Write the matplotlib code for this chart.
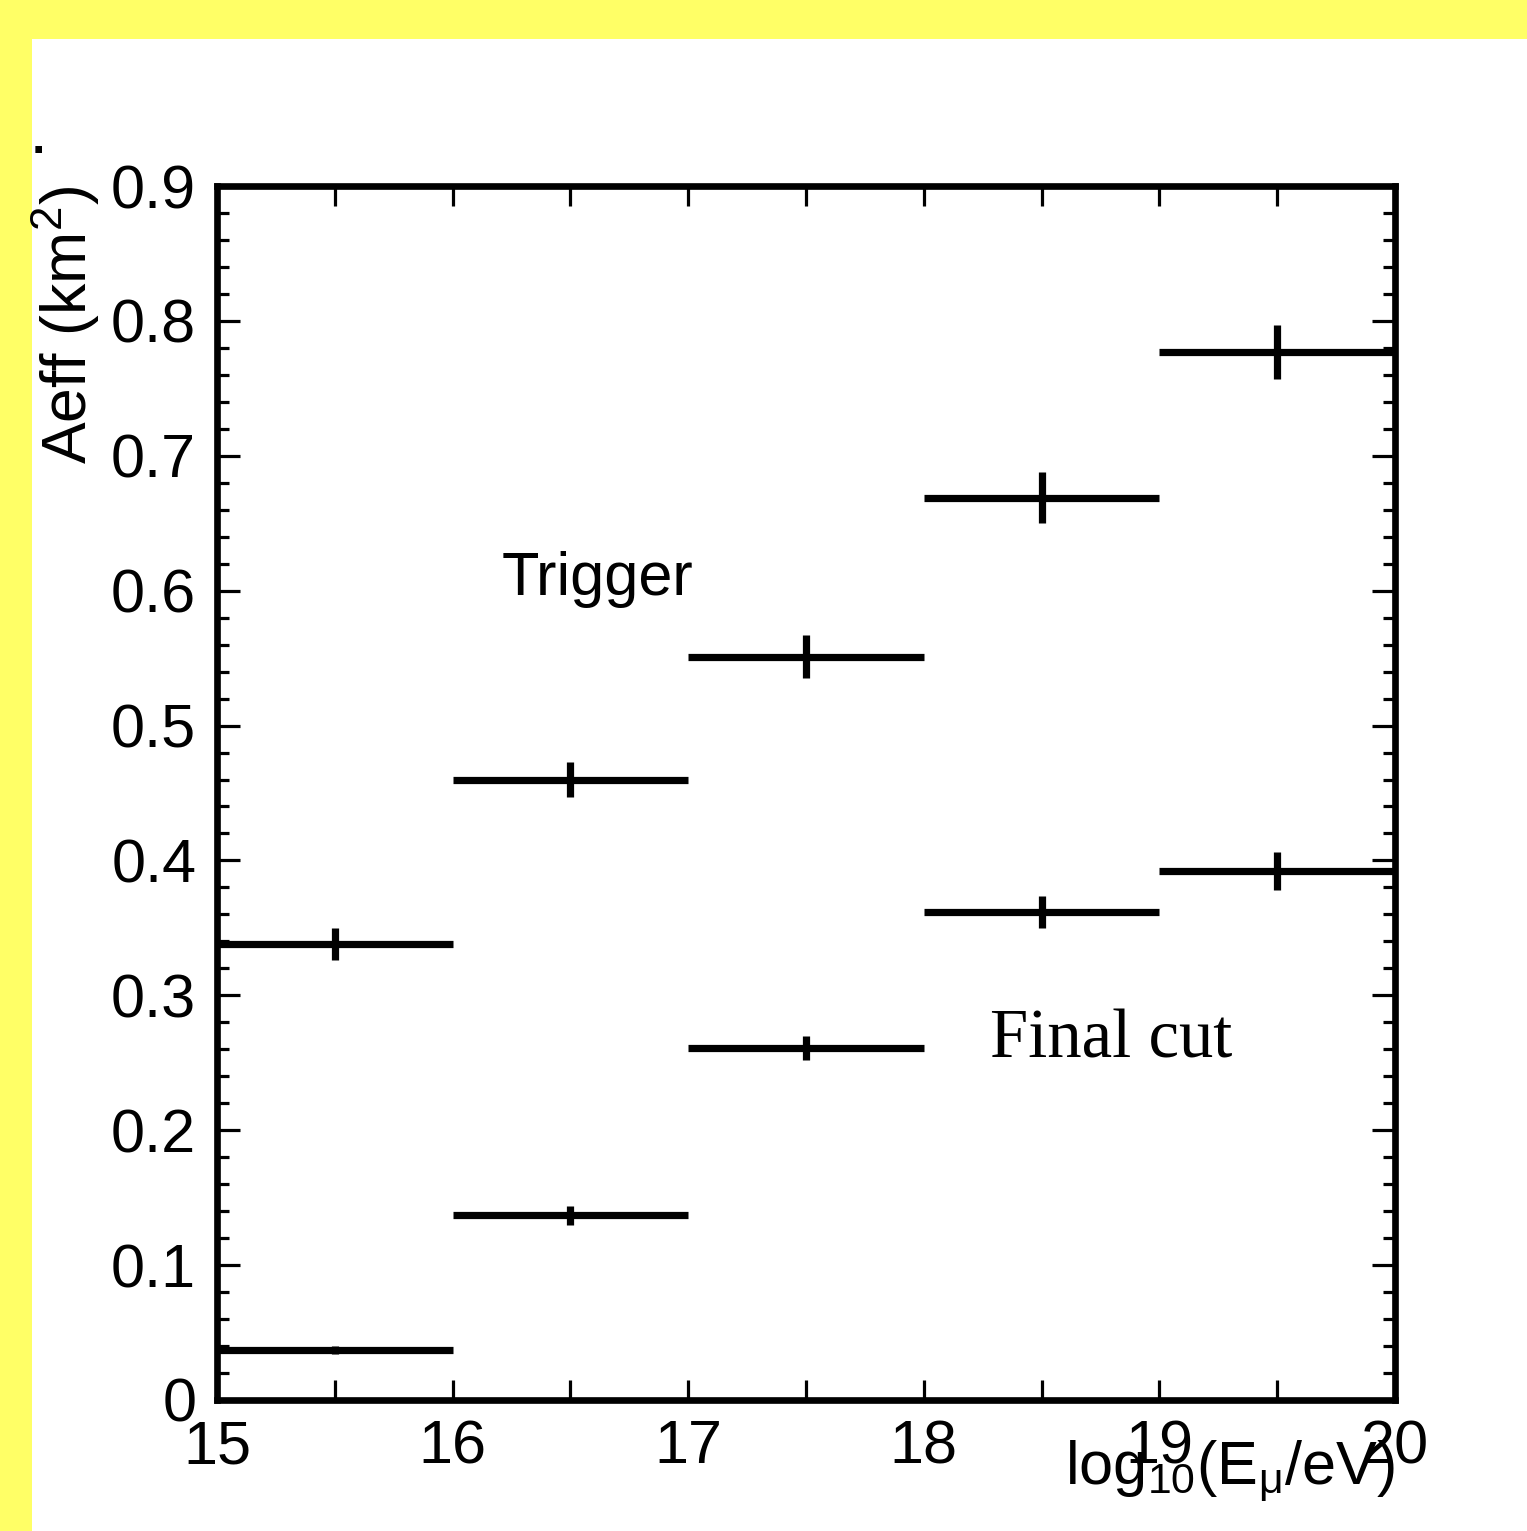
import matplotlib
matplotlib.use("Agg")
import matplotlib.pyplot as plt
from matplotlib.patches import Rectangle
from matplotlib.ticker import MultipleLocator

plt.rcParams['font.family'] = ['Liberation Sans', 'DejaVu Sans']
plt.rcParams['mathtext.default'] = 'regular'

# bin edges in log10(E/eV)
edges = [15, 16, 17, 18, 19, 20]
centers = [15.5, 16.5, 17.5, 18.5, 19.5]

# effective area (km^2)
trigger = [0.338, 0.460, 0.551, 0.669, 0.777]
trigger_err = [0.012, 0.013, 0.016, 0.019, 0.020]
final_cut = [0.037, 0.137, 0.261, 0.362, 0.392]
final_err = [0.003, 0.007, 0.009, 0.012, 0.014]

W, H = 1527, 1531
fig = plt.figure(figsize=(W / 100, H / 100), dpi=100, facecolor='#ffff66')

# white canvas inside the yellow border
fig.patches.append(Rectangle((32 / W, 0), 1 - 32 / W, (H - 39) / H,
                             transform=fig.transFigure, facecolor='white',
                             edgecolor='none', zorder=-10))

ax = fig.add_axes([217 / W, 1 - 1400 / H, (1395 - 217) / W, (1400 - 186) / H])
ax.set_facecolor('white')

half_width = [(edges[i + 1] - edges[i]) / 2 for i in range(len(centers))]

ax.errorbar(centers, trigger, xerr=half_width, yerr=trigger_err, fmt='none',
            ecolor='black', elinewidth=5.2, capsize=0, clip_on=True)
ax.errorbar(centers, final_cut, xerr=half_width, yerr=final_err, fmt='none',
            ecolor='black', elinewidth=5.2, capsize=0, clip_on=True)

ax.set_xlim(15, 20)
ax.set_ylim(0, 0.9)

ax.xaxis.set_major_locator(MultipleLocator(1))
ax.xaxis.set_minor_locator(MultipleLocator(0.5))
ax.yaxis.set_major_locator(MultipleLocator(0.1))
ax.yaxis.set_minor_locator(MultipleLocator(0.02))
ax.yaxis.set_major_formatter(plt.FuncFormatter(lambda v, p: '0' if abs(v) < 1e-9 else '%g' % v))

for s in ax.spines.values():
    s.set_linewidth(4.8)

ax.tick_params(axis='both', which='both', direction='in', top=True, right=True,
               width=2.3, labelsize=44)
ax.tick_params(axis='y', which='major', length=16.5, pad=15)
ax.tick_params(axis='y', which='minor', length=8.6)
ax.tick_params(axis='x', which='both', length=14.4, pad=14)

ax.set_xlabel(r'log$_{10}$(E$_{\mu}$/eV)', fontsize=44, loc='right')
ax.xaxis.set_label_coords(1.0, -0.032)
ax.set_ylabel(r'Aeff (km$^{2}$)', fontsize=45, loc='top')
ax.yaxis.set_label_coords(-0.098, 1.0)

ax.text(16.21, 0.597, 'Trigger', fontsize=44, ha='left', va='baseline')
ax.text(18.28, 0.254, 'Final cut', fontsize=49.5, family='Liberation Serif',
        ha='left', va='baseline')

# stray dot at upper left
fig.text(29 / W, 1 - 153 / H, '.', fontsize=50, ha='left', va='baseline')

fig.savefig('out.png', dpi=100, facecolor=fig.get_facecolor())
